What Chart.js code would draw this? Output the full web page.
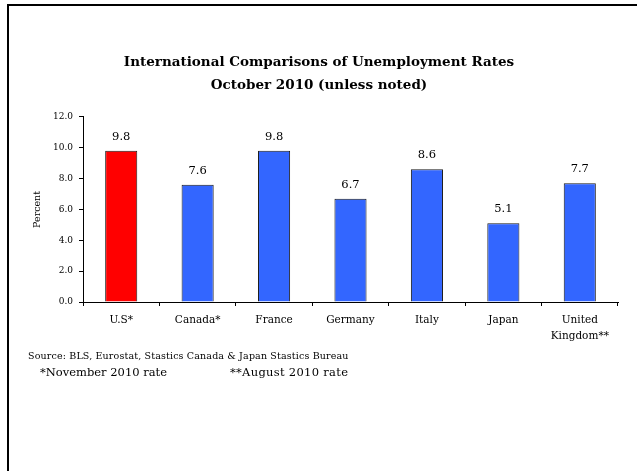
<!DOCTYPE html>
<html>
<head>
<meta charset="utf-8">
<script src="https://cdn.jsdelivr.net/npm/chart.js@4"></script>
<style>
  html, body { margin: 0; padding: 0; background: #fff; }
  body { width: 637px; height: 471px; position: relative; overflow: hidden; }
  .frame { position: absolute; left: 7px; top: 4px; right: 0; bottom: 0; border-left: 2px solid #000; border-top: 2px solid #000; }
  #chart { position: absolute; left: 0; top: 0; }
  .note { position: absolute; font-family: "Book Antiqua", Palatino, "Palatino Linotype", "DejaVu Serif", serif; color: #000; white-space: nowrap; line-height: 1; }
  #source { left: 28px; top: 351px; font-size: 9.5px; letter-spacing: 0.15px; }
  #foot1 { left: 40px; top: 367px; font-size: 11.5px; }
  #foot2 { left: 230px; top: 367px; font-size: 11.5px; letter-spacing: 0.3px; }
</style>
</head>
<body>
<div class="frame"></div>
<canvas id="chart" width="637" height="360"></canvas>
<div class="note" id="source">Source: BLS, Eurostat, Stastics Canada &amp; Japan Stastics Bureau</div>
<div class="note" id="foot1">*November 2010 rate</div>
<div class="note" id="foot2">**August 2010 rate</div>
<script>
const FONT = "'Book Antiqua', Palatino, 'Palatino Linotype', 'DejaVu Serif', serif";

const countries = ["U.S*", "Canada*", "France", "Germany", "Italy", "Japan", ["United", "Kingdom**"]];
const rates = [9.8, 7.6, 9.8, 6.7, 8.6, 5.1, 7.7];
const barColors = ["#ff0000", "#3366ff", "#3366ff", "#3366ff", "#3366ff", "#3366ff", "#3366ff"];
const titleLines = ["International Comparisons of Unemployment Rates", "October 2010 (unless noted)"];

Chart.defaults.font.family = FONT;
Chart.defaults.color = "#000";
Chart.defaults.animation = false;

// value above each bar
const valueLabels = {
  id: "valueLabels",
  afterDatasetsDraw(chart) {
    const ctx = chart.ctx;
    const meta = chart.getDatasetMeta(0);
    ctx.save();
    ctx.font = "11.5px " + FONT;
    ctx.fillStyle = "#000";
    ctx.textAlign = "center";
    ctx.textBaseline = "middle";
    meta.data.forEach((bar, i) => {
      ctx.fillText(rates[i].toFixed(1), bar.x, bar.y - 14);
    });
    ctx.restore();
  },
};

new Chart(document.getElementById("chart").getContext("2d"), {
  type: "bar",
  data: {
    labels: countries,
    datasets: [{
      data: rates,
      backgroundColor: barColors,
      borderColor: "#1a1a1a",
      borderWidth: 1,
      borderSkipped: "bottom",
      barPercentage: 0.42,
      categoryPercentage: 1,
    }],
  },
  options: {
    responsive: false,
    layout: { padding: { top: 51, left: 20, right: 19, bottom: 8 } },
    plugins: {
      legend: { display: false },
      tooltip: { enabled: false },
      title: {
        display: true,
        text: titleLines,
        font: { size: 13.5, weight: "bold", lineHeight: 1.7 },
        color: "#000",
        padding: { top: 0, bottom: 20 },
      },
    },
    scales: {
      x: {
        offset: true,
        grid: { offset: true, drawOnChartArea: false, drawTicks: true, tickLength: 4, color: "#000" },
        border: { color: "#000", width: 1 },
        ticks: { font: { size: 10.5, lineHeight: 1.55 }, padding: 6, maxRotation: 0, autoSkip: false },
        afterFit: (s) => { s.height = 50; },
      },
      y: {
        min: 0,
        max: 12,
        grid: { drawOnChartArea: false, drawTicks: true, tickLength: 4, color: "#000" },
        border: { color: "#000", width: 1 },
        ticks: { stepSize: 2, font: { size: 9 }, padding: 6, callback: (v) => v.toFixed(1) },
        title: { display: true, text: "Percent", font: { size: 9.5 }, padding: { top: 12, bottom: 0 } },
        afterFit: (s) => { s.width = 63; },
      },
    },
  },
  plugins: [valueLabels],
});
</script>
</body>
</html>
